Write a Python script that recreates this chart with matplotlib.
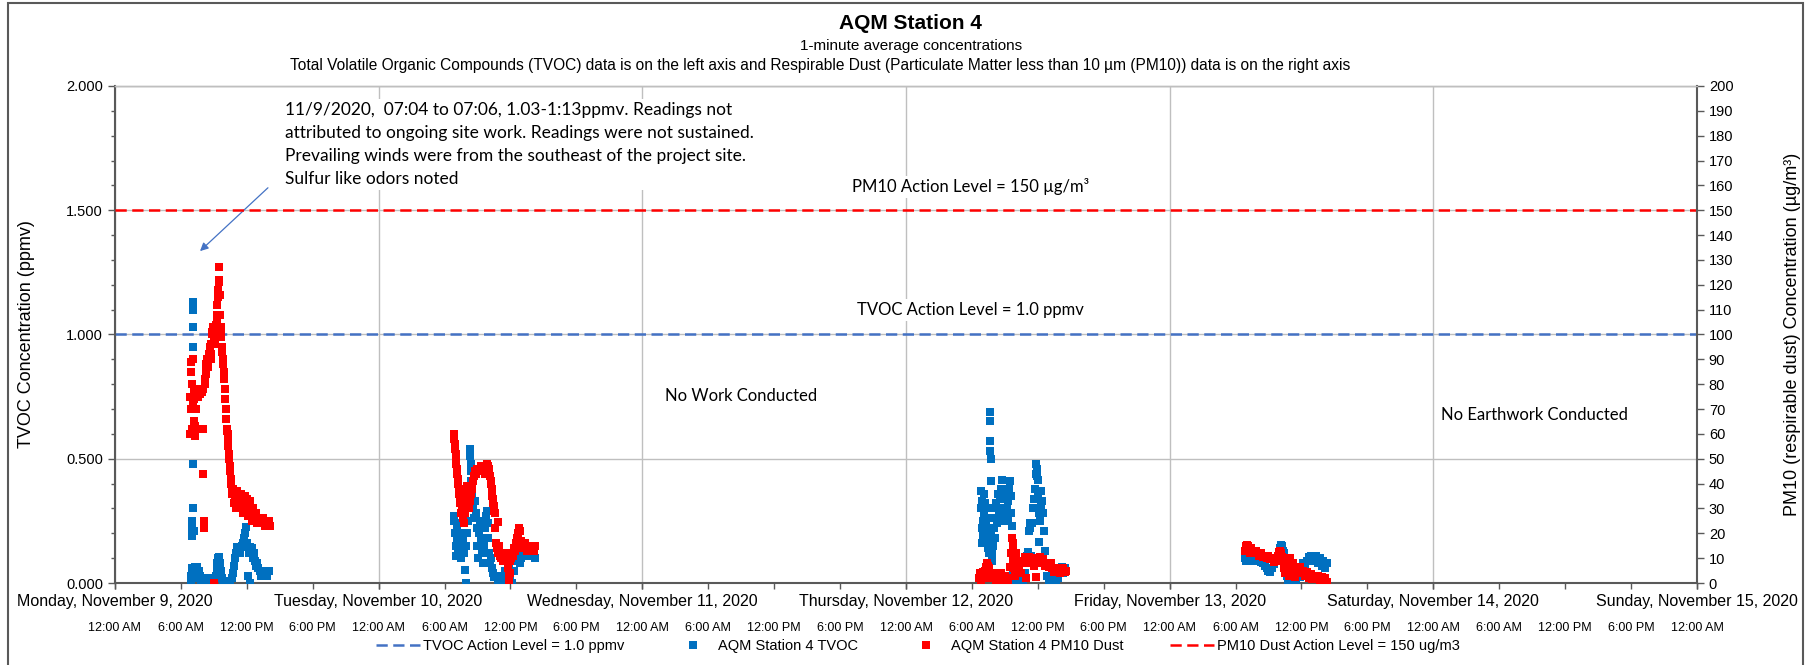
import pandas as pd
import matplotlib
matplotlib.use("Agg")
import matplotlib.pyplot as plt
import matplotlib.dates as mdates
from matplotlib.lines import Line2D
from matplotlib.patches import Rectangle
from matplotlib.ticker import MultipleLocator, FuncFormatter, FormatStrFormatter

plt.rcParams["font.family"] = ["Liberation Sans", "DejaVu Sans"]

# -------------------------------------------------
# Data (1-minute readings, thinned)
# -------------------------------------------------
# Monday 11/9
mon_tvoc_t = ["06:55", "06:58", "07:00", "07:01", "07:02", "07:03", "07:04", "07:05", "07:06", "07:07",
              "07:08", "07:09", "07:10", "07:12", "07:15", "07:20", "07:25", "07:30", "07:35", "07:40",
              "07:45", "07:50", "08:00", "08:10", "08:20", "08:30", "08:40", "08:50", "09:00", "09:10",
              "09:15", "09:20", "09:25", "09:30", "09:35", "09:40", "09:45", "09:50", "10:00", "10:10",
              "10:20", "10:30", "10:40", "10:45", "10:50", "10:55", "11:00", "11:05", "11:10", "11:15",
              "11:20", "11:25", "11:30", "11:35", "11:40", "11:45", "11:50", "11:55", "12:00", "12:05",
              "12:10", "12:15", "12:20", "12:25", "12:30", "12:35", "12:40", "12:45", "12:50", "12:55",
              "13:00", "13:10", "13:20", "13:30", "13:40", "13:50", "14:00"]
mon_tvoc_v = [0.03, 0.00, 0.06, 0.19, 0.22, 0.25, 1.03, 1.13, 1.10, 0.95,
              0.48, 0.30, 0.21, 0.06, 0.02, 0.065, 0.04, 0.065, 0.02, 0.05,
              0.03, 0.00, 0.02, 0.00, 0.01, 0.00, 0.02, 0.00, 0.01, 0.03,
              0.06, 0.08, 0.10, 0.105, 0.08, 0.05, 0.02, 0.00, 0.00, 0.01,
              0.00, 0.00, 0.02, 0.04, 0.07, 0.10, 0.12, 0.145, 0.13, 0.145,
              0.14, 0.12, 0.145, 0.15, 0.16, 0.18, 0.20, 0.225, 0.16, 0.03,
              0.12, 0.145, 0.00, 0.13, 0.14, 0.10, 0.12, 0.09, 0.07, 0.08,
              0.06, 0.05, 0.03, 0.05, 0.04, 0.03, 0.05]
mon_pm_t = ["06:50", "06:52", "06:54", "06:56", "06:58", "07:00", "07:02", "07:04", "07:06", "07:08",
            "07:10", "07:12", "07:14", "07:16", "07:18", "07:20", "07:22", "07:24", "07:27", "07:30",
            "07:35", "07:40", "07:45", "07:50", "07:55", "08:00", "08:02", "08:03", "08:05", "08:06",
            "08:10", "08:12", "08:15", "08:17", "08:20", "08:22", "08:25", "08:27", "08:30", "08:32",
            "08:35", "08:37", "08:40", "08:42", "08:45", "08:47", "08:50", "08:52", "08:55", "08:57",
            "09:00", "09:02", "09:05", "09:07", "09:10", "09:12", "09:15", "09:17", "09:20", "09:22",
            "09:24", "09:26", "09:28", "09:30", "09:32", "09:34", "09:36", "09:38", "09:40", "09:42",
            "09:45", "09:47", "09:50", "09:52", "09:55", "09:58", "10:00", "10:02", "10:05", "10:07",
            "10:10", "10:12", "10:15", "10:17", "10:20", "10:22", "10:25", "10:27", "10:30", "10:32",
            "10:35", "10:37", "10:40", "10:45", "10:50", "10:55", "11:00", "11:05", "11:10", "11:15",
            "11:20", "11:25", "11:30", "11:35", "11:40", "11:45", "11:50", "11:55", "12:00", "12:05",
            "12:10", "12:15", "12:20", "12:25", "12:30", "12:35", "12:40", "12:45", "12:50", "12:55",
            "13:00", "13:10", "13:20", "13:30", "13:40", "13:50", "14:00", "14:05"]
mon_pm_v = [60, 75, 89, 85, 70, 62, 80, 90, 72, 60,
            65, 78, 74, 63, 59, 61, 70, 76, 75, 77,
            75, 77, 76, 78, 77, 44, 78, 62, 25, 22,
            80, 82, 84, 86, 88, 89, 90, 88, 87, 90,
            92, 93, 95, 92, 90, 96, 100, 101, 103, 100,
            0, 98, 96, 99, 102, 104, 105, 108, 112, 115,
            118, 122, 127, 121, 116, 108, 100, 101, 103, 99,
            95, 93, 90, 88, 85, 82, 78, 74, 70, 66,
            62, 61, 60, 57, 55, 52, 50, 47, 45, 42,
            40, 38, 36, 38, 32, 35, 30, 37, 33, 35,
            30, 34, 36, 32, 28, 33, 35, 30, 34, 27,
            32, 30, 33, 28, 25, 30, 27, 26, 28, 24,
            26, 25, 24, 26, 23, 24, 25, 23]

# Tuesday 11/10
tue_tvoc_t = ["06:50", "06:53", "06:56", "07:00", "07:03", "07:06", "07:10", "07:13", "07:16", "07:20",
              "07:25", "07:30", "07:35", "07:40", "07:45", "07:50", "07:55", "08:00", "08:05", "08:10",
              "08:15", "08:20", "08:21", "08:22", "08:23", "08:25", "08:30", "08:35", "08:40", "08:45",
              "08:50", "08:55", "09:00", "09:05", "09:10", "09:15", "09:20", "09:25", "09:30", "09:35",
              "09:40", "09:45", "09:50", "09:55", "10:00", "10:05", "10:10", "10:15", "10:20", "10:25",
              "10:30", "10:40", "10:50", "11:00", "11:10", "11:20", "11:30", "11:40", "11:50", "12:00",
              "12:10", "12:20", "12:30", "12:40", "12:50", "13:00", "13:10", "13:20", "13:30", "13:40",
              "13:50", "14:00", "14:10", "14:15"]
tue_tvoc_v = [0.25, 0.27, 0.20, 0.15, 0.11, 0.22, 0.18, 0.12, 0.16, 0.20,
              0.14, 0.10, 0.24, 0.18, 0.12, 0.052, 0.00, 0.15, 0.20, 0.25,
              0.30, 0.54, 0.51, 0.48, 0.45, 0.41, 0.35, 0.30, 0.26, 0.33,
              0.28, 0.22, 0.15, 0.10, 0.20, 0.25, 0.18, 0.12, 0.08, 0.15,
              0.22, 0.27, 0.29, 0.24, 0.18, 0.12, 0.08, 0.10, 0.06, 0.04,
              0.025, 0.03, 0.00, 0.02, 0.00, 0.03, 0.05, 0.02, 0.065, 0.03,
              0.00, 0.05, 0.09, 0.12, 0.08, 0.10, 0.12, 0.14, 0.11, 0.13,
              0.15, 0.12, 0.14, 0.10]
tue_pm_t = ["06:50", "06:52", "06:55", "06:57", "07:00", "07:02", "07:05", "07:07", "07:10", "07:12",
            "07:15", "07:17", "07:20", "07:22", "07:25", "07:28", "07:32", "07:36", "07:40", "07:45",
            "07:50", "07:55", "08:00", "08:05", "08:10", "08:15", "08:20", "08:25", "08:30", "08:35",
            "08:40", "08:45", "08:50", "09:00", "09:10", "09:20", "09:30", "09:40", "09:50", "09:55",
            "10:00", "10:05", "10:10", "10:12", "10:15", "10:17", "10:20", "10:22", "10:25", "10:27",
            "10:30", "10:32", "10:35", "10:37", "10:40", "10:45", "10:50", "10:52", "10:55", "11:00",
            "11:05", "11:10", "11:15", "11:20", "11:25", "11:30", "11:35", "11:40", "11:45", "11:48",
            "11:50", "11:52", "11:55", "12:00", "12:05", "12:10", "12:15", "12:20", "12:25", "12:30",
            "12:35", "12:40", "12:45", "12:50", "12:55", "13:00", "13:10", "13:20", "13:30", "13:40",
            "13:50", "14:00", "14:10", "14:15"]
tue_pm_v = [58, 60, 56, 54, 52, 50, 48, 46, 44, 42,
            40, 38, 36, 34, 32, 28, 38, 30, 26, 24,
            28, 32, 36, 39, 34, 30, 33, 36, 38, 41,
            43, 45, 44, 46, 45, 47, 46, 44, 48, 47,
            45, 46, 43, 41, 40, 38, 37, 35, 34, 32,
            31, 29, 28, 22, 16, 14, 24.6, 12, 15, 13,
            11, 10, 12, 9, 11, 10, 12, 9, 10, 6,
            3, 0, 4, 9, 10, 12, 11, 14, 13, 16,
            18, 20, 22, 21, 17, 16, 14, 16, 13, 15,
            14, 15, 13, 15]

# Thursday 11/12
thu_tvoc_t = ["06:50", "06:52", "06:54", "06:56", "06:58", "07:00", "07:02", "07:05", "07:08", "07:10",
              "07:13", "07:15", "07:18", "07:20", "07:23", "07:26", "07:29", "07:32", "07:35", "07:38",
              "07:39", "07:40", "07:41", "07:42", "07:43", "07:45", "07:48", "07:50", "07:55", "08:00",
              "08:03", "08:06", "08:09", "08:12", "08:15", "08:20", "08:25", "08:30", "08:35", "08:40",
              "08:45", "08:48", "08:51", "08:55", "09:00", "09:05", "09:10", "09:15", "09:20", "09:25",
              "09:30", "09:33", "09:36", "09:40", "09:45", "09:50", "10:00", "10:10", "10:20", "10:30",
              "10:40", "10:50", "11:00", "11:05", "11:10", "11:15", "11:20", "11:25", "11:30", "11:35",
              "11:40", "11:45", "11:50", "11:53", "11:55", "11:57", "12:00", "12:03", "12:05", "12:07",
              "12:10", "12:15", "12:20", "12:25", "12:30", "12:35", "12:40", "12:45", "12:50", "13:00",
              "13:10", "13:20", "13:30", "13:40", "13:50", "14:00", "14:10", "14:20", "14:30"]
thu_tvoc_v = [0.30, 0.37, 0.22, 0.16, 0.33, 0.25, 0.19, 0.36, 0.28, 0.20,
              0.32, 0.24, 0.17, 0.30, 0.22, 0.14, 0.26, 0.18, 0.12, 0.69,
              0.65, 0.57, 0.53, 0.50, 0.41, 0.19, 0.12, 0.09, 0.15, 0.22,
              0.30, 0.18, 0.26, 0.32, 0.24, 0.30, 0.36, 0.28, 0.34, 0.38,
              0.415, 0.30, 0.25, 0.34, 0.28, 0.36, 0.30, 0.25, 0.33, 0.38,
              0.41, 0.35, 0.28, 0.23, 0.05, 0.02, 0.00, 0.03, 0.00, 0.02,
              0.00, 0.04, 0.11, 0.125, 0.21, 0.24, 0.22, 0.11, 0.24, 0.30,
              0.34, 0.38, 0.44, 0.48, 0.46, 0.43, 0.415, 0.35, 0.28, 0.165,
              0.25, 0.31, 0.37, 0.33, 0.28, 0.21, 0.13, 0.07, 0.03, 0.00,
              0.02, 0.00, 0.03, 0.00, 0.02, 0.05, 0.065, 0.04, 0.06]
thu_pm_t = ["06:40", "06:45", "06:50", "06:55", "07:00", "07:05", "07:10", "07:15", "07:20", "07:25",
            "07:30", "07:35", "07:40", "07:45", "07:50", "07:55", "08:00", "08:10", "08:20", "08:30",
            "08:40", "08:50", "09:00", "09:10", "09:20", "09:30", "09:35", "09:40", "09:42", "09:44",
            "09:47", "09:50", "09:53", "09:56", "10:00", "10:05", "10:10", "10:20", "10:30", "10:40",
            "10:50", "10:55", "11:00", "11:10", "11:20", "11:30", "11:40", "11:48", "11:50", "12:00",
            "12:10", "12:20", "12:30", "12:40", "12:50", "13:00", "13:10", "13:20", "13:30", "13:40",
            "13:50", "14:00", "14:10", "14:20", "14:30", "14:35"]
thu_pm_v = [2, 4, 1, 3, 4.4, 2, 5, 6.5, 7, 8,
            7, 6, 4, 3, 2, 4, 3, 1, 3, 2,
            4, 1, 3, 2, 0.5, 6.5, 12, 18, 16, 14,
            9, 6, 3, 10, 12, 9, 7, 5, 4, 8,
            10.5, 2, 9, 10.5, 8, 9.5, 7, 2.5, 10, 9,
            10.5, 8, 9.5, 7, 8, 6.5, 8, 6, 4.4, 5,
            6, 4, 5, 6, 4.5, 5]

# Friday 11/13
fri_tvoc_t = ["06:50", "06:55", "07:00", "07:10", "07:20", "07:30", "07:40", "07:50", "08:00", "08:10",
              "08:20", "08:30", "08:40", "08:50", "09:00", "09:10", "09:20", "09:30", "09:40", "09:50",
              "10:00", "10:05", "10:10", "10:15", "10:20", "10:25", "10:30", "10:35", "10:40", "10:45",
              "10:50", "11:00", "11:10", "11:20", "11:30", "11:40", "11:50", "12:00", "12:10", "12:20",
              "12:30", "12:40", "12:50", "13:00", "13:10", "13:20", "13:30", "13:40", "13:50", "14:00",
              "14:10", "14:20"]
fri_tvoc_v = [0.10, 0.09, 0.12, 0.105, 0.10, 0.09, 0.105, 0.10, 0.09, 0.10,
              0.085, 0.08, 0.07, 0.06, 0.05, 0.045, 0.06, 0.075, 0.09, 0.10,
              0.12, 0.14, 0.153, 0.15, 0.13, 0.12, 0.10, 0.06, 0.03, 0.01,
              0.00, 0.02, 0.00, 0.03, 0.01, 0.04, 0.025, 0.06, 0.08, 0.07,
              0.09, 0.105, 0.11, 0.10, 0.09, 0.11, 0.08, 0.10, 0.07, 0.09,
              0.06, 0.08]
fri_pm_t = ["06:50", "06:55", "07:00", "07:05", "07:10", "07:15", "07:20", "07:25", "07:30", "07:40",
            "07:50", "08:00", "08:10", "08:20", "08:30", "08:40", "08:50", "09:00", "09:10", "09:20",
            "09:30", "09:40", "09:50", "10:00", "10:05", "10:10", "10:15", "10:20", "10:25", "10:30",
            "10:35", "10:40", "10:45", "10:50", "10:55", "11:00", "11:05", "11:10", "11:15", "11:20",
            "11:25", "11:30", "11:40", "11:50", "12:00", "12:10", "12:20", "12:30", "12:40", "12:50",
            "13:00", "13:10", "13:20", "13:30", "13:40", "13:50", "14:00", "14:10", "14:20"]
fri_pm_v = [13, 15, 15.3, 14, 15, 13, 12, 14, 13, 12.5,
            13, 12, 11, 12, 10.5, 11, 10, 11, 9.5, 10,
            8.5, 9, 11, 12.5, 13, 12, 10.5, 9, 6, 4,
            7, 9, 5, 3, 8, 10, 6, 4, 8, 5,
            2.5, 6, 4, 6.5, 4, 5, 3, 4.5, 2, 3.5,
            1.5, 3, 2, 3, 1.2, 2.5, 1, 2, 0.5]

tvoc_days = [("2020-11-09", mon_tvoc_t, mon_tvoc_v), ("2020-11-10", tue_tvoc_t, tue_tvoc_v),
             ("2020-11-12", thu_tvoc_t, thu_tvoc_v), ("2020-11-13", fri_tvoc_t, fri_tvoc_v)]
pm_days = [("2020-11-09", mon_pm_t, mon_pm_v), ("2020-11-10", tue_pm_t, tue_pm_v),
           ("2020-11-12", thu_pm_t, thu_pm_v), ("2020-11-13", fri_pm_t, fri_pm_v)]

tvoc_action = 1.0
pm_action = 150


def stack(days):
    times, vals = [], []
    for day, t, v in days:
        times += [f"{day} {s}" for s in t]
        vals += v
    return pd.to_datetime(times), vals


tvoc_x, tvoc_y = stack(tvoc_days)
pm_x, pm_y = stack(pm_days)

start = pd.Timestamp("2020-11-09 00:00")
end = pd.Timestamp("2020-11-15 00:00")

blue = "#0070C0"
red = "#FF0000"
dash_blue = "#4472C4"
spine_c = "#595959"
grid_c = "#BFBFBF"
note_font = ["Lato", "DejaVu Sans"]

# -------------------------------------------------
# Figure
# -------------------------------------------------
fig = plt.figure(figsize=(18.07, 6.65), dpi=100)
ax = fig.add_axes([0.0636, 0.1233, 0.8755, 0.7474])
ax2 = ax.twinx()

ax.plot(tvoc_x, tvoc_y, ls="none", marker="s", ms=5.8, mew=0, color=blue, zorder=3)
ax.axhline(tvoc_action, color=dash_blue, lw=1.8, dashes=(4.5, 2.2), zorder=2)
ax2.plot(pm_x, pm_y, ls="none", marker="s", ms=5.8, mew=0, color=red, zorder=3)
ax2.axhline(pm_action, color=red, lw=1.8, dashes=(4.5, 2.2), zorder=2)

ax.set_xlim(start, end)
ax.set_ylim(0, 2)
ax2.set_ylim(0, 200)

# y axes
ax.yaxis.set_major_locator(MultipleLocator(0.5))
ax.yaxis.set_minor_locator(MultipleLocator(0.1))
ax.yaxis.set_major_formatter(FormatStrFormatter("%.3f"))
ax2.yaxis.set_major_locator(MultipleLocator(10))
ax.tick_params(axis="y", which="major", labelsize=10.5, length=5, width=1, color=spine_c)
ax.tick_params(axis="y", which="minor", length=3, width=1, color=spine_c)
ax2.tick_params(axis="y", labelsize=10.5, length=5, width=1, color=spine_c)

# x axis: days as major, 6-hour marks as minor
ax.xaxis.set_major_locator(mdates.DayLocator())
ax.xaxis.set_minor_locator(mdates.HourLocator(byhour=[0, 6, 12, 18]))
ax.xaxis.remove_overlapping_locs = False


def day_fmt(x, pos):
    d = mdates.num2date(x)
    return f"{d:%A}, {d:%B} {d.day}, {d.year}"


def hour_fmt(x, pos):
    return mdates.num2date(x).strftime("%I:%M %p").lstrip("0")


ax.xaxis.set_major_formatter(FuncFormatter(day_fmt))
ax.xaxis.set_minor_formatter(FuncFormatter(hour_fmt))
ax.tick_params(axis="x", which="major", labelsize=11.5, length=4, width=1, color=spine_c, pad=4)
ax.tick_params(axis="x", which="minor", labelsize=9, length=4, width=1, color=spine_c, pad=24)

ax.set_axisbelow(True)
ax.grid(axis="y", which="major", color=grid_c, lw=1)
ax.grid(axis="x", which="major", color=grid_c, lw=1)

for a in (ax, ax2):
    a.spines["top"].set_color(grid_c)
    a.spines["top"].set_linewidth(1)
ax.spines["left"].set_color(spine_c)
ax.spines["left"].set_linewidth(1.5)
ax.spines["bottom"].set_color(spine_c)
ax.spines["bottom"].set_linewidth(1.5)
ax.spines["right"].set_visible(False)
ax2.spines["left"].set_visible(False)
ax2.spines["bottom"].set_visible(False)
ax2.spines["right"].set_color(spine_c)
ax2.spines["right"].set_linewidth(1.5)

ax.set_ylabel("TVOC Concentration (ppmv)", fontsize=13)
ax.yaxis.set_label_coords(-0.0506, 0.5)
ax2.set_ylabel("PM10 (respirable dust) Concentration (µg/m³)", fontsize=13)
ax2.yaxis.set_label_coords(1.055, 0.5)

# -------------------------------------------------
# Notes inside the plot
# -------------------------------------------------
box = dict(facecolor="white", edgecolor="none", pad=2)
note = ("11/9/2020,  07:04 to 07:06, 1.03-1:13ppmv. Readings not\n"
        "attributed to ongoing site work. Readings were not sustained.\n"
        "Prevailing winds were from the southeast of the project site.\n"
        "Sulfur like odors noted")
ax.text(0.1075, 0.968, note, transform=ax.transAxes, ha="left", va="top", fontsize=12.5,
        family=note_font, linespacing=1.55, bbox=box, zorder=1)
ax.annotate("", xy=(0.0525, 0.664), xytext=(0.098, 0.799), xycoords="axes fraction",
            arrowprops=dict(arrowstyle="-|>", color=dash_blue, lw=0.9, mutation_scale=12), zorder=4)
ax.text(0.541, 0.797, "PM10 Action Level = 150 µg/m³", transform=ax.transAxes, ha="center",
        va="center", fontsize=12, family=note_font, bbox=box, zorder=1)
ax.text(0.541, 0.549, "TVOC Action Level = 1.0 ppmv", transform=ax.transAxes, ha="center",
        va="center", fontsize=12, family=note_font, bbox=box, zorder=1)
ax.text(0.3957, 0.376, "No Work Conducted", transform=ax.transAxes, ha="center", va="center",
        fontsize=12, family=note_font, zorder=1)
ax.text(0.897, 0.338, "No Earthwork Conducted", transform=ax.transAxes, ha="center", va="center",
        fontsize=12, family=note_font, zorder=1)

# -------------------------------------------------
# Titles, legend, frame
# -------------------------------------------------
fig.text(0.504, 0.965, "AQM Station 4", ha="center", va="center", fontsize=15, fontweight="bold")
fig.text(0.504, 0.931, "1-minute average concentrations", ha="center", va="center", fontsize=11)
fig.text(0.454, 0.901, "Total Volatile Organic Compounds (TVOC) data is on the left axis and Respirable "
         "Dust (Particulate Matter less than 10 µm (PM10)) data is on the right axis",
         ha="center", va="center", fontsize=11.2)

handles = [
    Line2D([], [], color=dash_blue, lw=1.8, dashes=(4.5, 2.2)),
    Line2D([], [], ls="none", marker="s", ms=6, mew=0, color=blue),
    Line2D([], [], ls="none", marker="s", ms=6, mew=0, color=red),
    Line2D([], [], color=red, lw=1.8, dashes=(4.5, 2.2)),
]
labels = ["TVOC Action Level = 1.0 ppmv", "AQM Station 4 TVOC", "AQM Station 4 PM10 Dust",
          "PM10 Dust Action Level = 150 ug/m3"]
fig.legend(handles, labels, loc="center", bbox_to_anchor=(0.508, 0.0286), ncol=4, frameon=False,
           fontsize=10.5, handlelength=3, handletextpad=0.2, columnspacing=3.2)

fig.add_artist(Rectangle((8 / 1807, -0.02), 1795 / 1807, 1.02 - 3 / 665, transform=fig.transFigure,
                         fill=False, edgecolor=spine_c, lw=1.5))

fig.savefig("out.png", dpi=100)
